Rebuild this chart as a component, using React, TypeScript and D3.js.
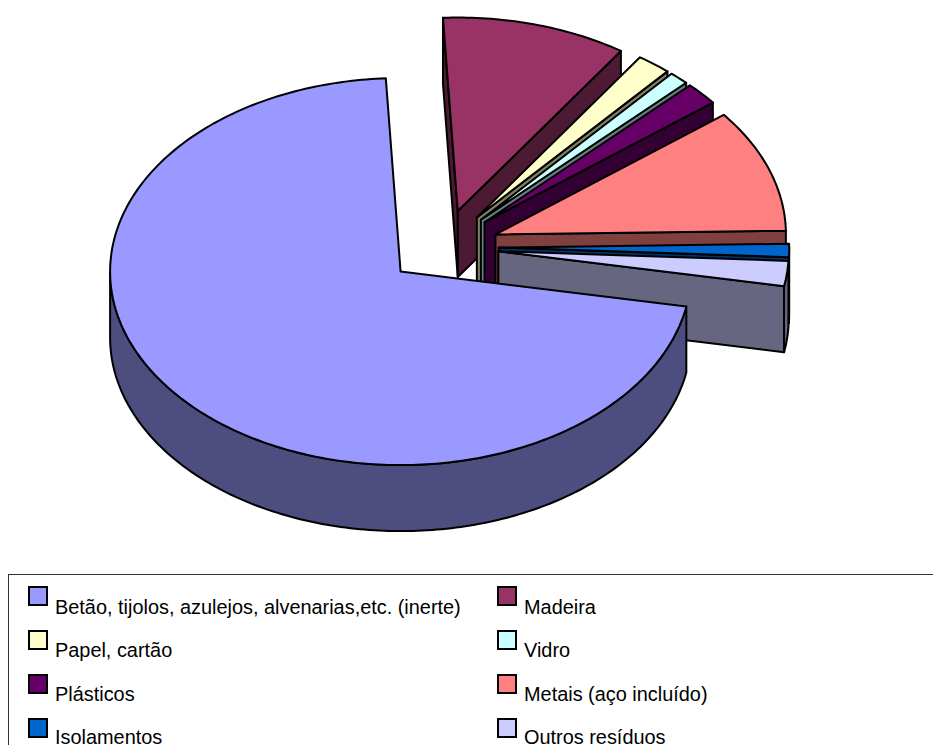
import React from "react";
import * as d3 from "d3";

const categories = [
  "Betão, tijolos, azulejos, alvenarias,etc. (inerte)",
  "Madeira",
  "Papel, cartão",
  "Vidro",
  "Plásticos",
  "Metais (aço incluído)",
  "Isolamentos",
  "Outros resíduos",
];
const shares = [71.3, 10.3, 1.9, 1.1, 1.9, 10.3, 1.1, 2.1];
const topColors = ["#9999FF", "#993366", "#FFFFCC", "#CCFFFF", "#660066", "#FF8080", "#0066CC", "#CCCCFF"];
const wallColors = ["#4D4D80", "#4D1A33", "#808066", "#668080", "#330033", "#804040", "#003366", "#666680"];
const paintOrder = [1, 2, 3, 4, 5, 6, 7, 0];

const W = 933;
const H = 745;
const CX = 442.7;
const CY = 247;
const RX = 290.5;
const RY = 193.5;
const DEPTH = 66;
const EXPLODE = 56;
const START = (100.4 * Math.PI) / 180;

const legendX = d3.scalePoint<number>().domain([0, 1]).range([29, 498]);
const legendY = d3.scaleLinear().domain([0, 3]).range([587, 719]);
const legendTextY = d3.scaleLinear().domain([0, 3]).range([613.5, 744]);

const slices = d3
  .pie<number>()
  .sort(null)
  .startAngle(START)
  .endAngle(START + 2 * Math.PI)(shares);

const line = d3.line<[number, number]>();

function Slice({ i }: { i: number }) {
  const s = slices[i];
  const mid = (s.startAngle + s.endAngle) / 2;
  const ax = CX + EXPLODE * Math.sin(mid);
  const ay = CY - (EXPLODE * RY * Math.cos(mid)) / RX;
  const pt = (t: number, dz = 0): [number, number] => [
    ax + RX * Math.sin(t),
    ay - RY * Math.cos(t) + dz,
  ];
  const apex: [number, number] = [ax, ay];
  const apexB: [number, number] = [ax, ay + DEPTH];
  const n = Math.max(4, Math.ceil((s.endAngle - s.startAngle) * 60));
  const angs = d3.range(n + 1).map((k) => s.startAngle + ((s.endAngle - s.startAngle) * k) / n);
  const top = line([apex, ...angs.map((t) => pt(t))]) + "Z";
  const startVisible = Math.sin(s.startAngle) < 0;
  const endVisible = Math.sin(s.endAngle) > 0;
  // outer rim faces the viewer between 90 and 270 degrees, in either turn of the circle
  const walls = [0, 2 * Math.PI]
    .map((turn) => [Math.max(s.startAngle, Math.PI / 2 + turn), Math.min(s.endAngle, (3 * Math.PI) / 2 + turn)])
    .filter(([lo, hi]) => hi > lo)
    .map(([lo, hi]) => {
      const m = Math.max(4, Math.ceil((hi - lo) * 60));
      const a = d3.range(m + 1).map((k) => lo + ((hi - lo) * k) / m);
      return line([...a.map((t) => pt(t)), ...a.slice().reverse().map((t) => pt(t, DEPTH))]) + "Z";
    });
  const common = { stroke: "#000", strokeWidth: 2, strokeLinejoin: "round" as const };
  return (
    <g>
      {startVisible && (
        <path d={line([apex, pt(s.startAngle), pt(s.startAngle, DEPTH), apexB]) + "Z"} fill={wallColors[i]} {...common} />
      )}
      {endVisible && (
        <path d={line([apex, pt(s.endAngle), pt(s.endAngle, DEPTH), apexB]) + "Z"} fill={wallColors[i]} {...common} />
      )}
      {walls.map((d, k) => (
        <path key={k} d={d} fill={wallColors[i]} {...common} />
      ))}
      <path d={top} fill={topColors[i]} {...common} />
    </g>
  );
}

export default function App() {
  return (
    <svg
      width={W}
      height={H}
      viewBox={`0 0 ${W} ${H}`}
      style={{ position: "absolute", left: 0, top: 0, background: "#fff" }}
    >
      {paintOrder.map((i) => (
        <Slice key={i} i={i} />
      ))}
      <rect x={8.5} y={574.5} width={W + 20} height={H} fill="none" stroke="#333" strokeWidth={1} />
      {categories.map((c, i) => {
        const col = i % 2;
        const row = Math.floor(i / 2);
        const x = legendX(col) as number;
        return (
          <g key={c}>
            <rect x={x} y={legendY(row)} width={18} height={18} fill={topColors[i]} stroke="#000" strokeWidth={2} />
            <text x={x + 26} y={legendTextY(row)} fontFamily="Liberation Sans, Arial, sans-serif" fontSize={19.9} fill="#000">
              {c}
            </text>
          </g>
        );
      })}
    </svg>
  );
}
